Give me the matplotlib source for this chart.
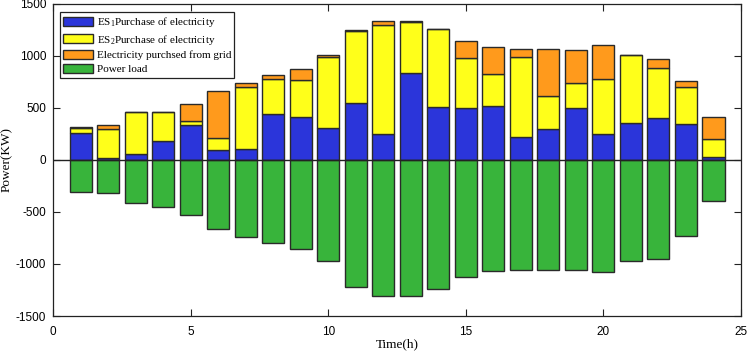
import numpy as np
import matplotlib
matplotlib.use('Agg')
import matplotlib.pyplot as plt

plt.rcParams['axes.unicode_minus'] = False
plt.rcParams['mathtext.fontset'] = 'custom'
plt.rcParams['mathtext.rm'] = 'Liberation Serif'
plt.rcParams['mathtext.it'] = 'Liberation Serif:italic'

# data
hours = np.arange(1, 25)
es1 = [260, 20, 55, 180, 330, 95, 100, 435, 415, 305, 545, 245,
       830, 510, 500, 515, 215, 300, 500, 245, 355, 400, 340, 25]
es2 = [50, 275, 405, 280, 45, 110, 600, 340, 350, 685, 690, 1050,
       490, 750, 475, 305, 770, 310, 240, 530, 655, 485, 360, 170]
grid = [3, 40, 3, 3, 165, 460, 40, 40, 105, 18, 15, 35,
        8, 0, 163, 265, 75, 455, 315, 325, 0, 85, 60, 220]
load = [-305, -314, -417, -449, -526, -660, -737, -795, -859, -974, -1218, -1311,
        -1311, -1244, -1128, -1064, -1054, -1058, -1054, -1080, -974, -952, -734, -391]

labels = ['ES$_1$Purchase of electricity', 'ES$_2$Purchase of electricity',
          'Electricity purchsed from grid', 'Power load']
colors = ['#2B35DA', '#FFFF1A', '#FF9A1C', '#38B43B']

es1 = np.array(es1)
es2 = np.array(es2)
grid = np.array(grid)

fig = plt.figure(figsize=(7.47, 3.52), dpi=100)
ax = fig.add_axes([0.071, 0.102, 0.921, 0.888])

kw = dict(width=0.8, edgecolor='#2a2a2a', linewidth=1.0)
ax.bar(hours, es1, color=colors[0], label=labels[0], **kw)
ax.bar(hours, es2, bottom=es1, color=colors[1], label=labels[1], **kw)
ax.bar(hours, grid, bottom=es1 + es2, color=colors[2], label=labels[2], **kw)
ax.bar(hours, load, color=colors[3], label=labels[3], **kw)
ax.axhline(0, color='#222222', linewidth=1.0)

ax.set_xlim(0, 25)
ax.set_ylim(-1500, 1500)
ax.set_xticks([0, 5, 10, 15, 20, 25])
ax.set_yticks([-1500, -1000, -500, 0, 500, 1000, 1500])
ax.tick_params(direction='in', length=5, width=0.8, top=True, right=True,
               labelsize=8.5, color='#222222', pad=5)
ax.tick_params(axis='x', pad=7)
for t in ax.get_xticklabels() + ax.get_yticklabels():
    t.set_fontfamily('Liberation Sans')
for s in ax.spines.values():
    s.set_linewidth(0.9)
    s.set_color('#222222')

ax.set_xlabel('Time(h)', fontfamily='Liberation Serif', fontsize=9.5, labelpad=0)
ax.set_ylabel('Power(KW)', fontfamily='Liberation Serif', fontsize=9.5, labelpad=2)

leg = ax.legend(loc='upper left', bbox_to_anchor=(0.010, 0.973), borderaxespad=0,
                prop={'family': 'Liberation Serif', 'size': 8},
                handlelength=2.7, handleheight=0.9, handletextpad=0.3,
                labelspacing=0.3, borderpad=0.3, fancybox=False,
                framealpha=1, edgecolor='#222222')
leg.get_frame().set_linewidth(0.9)

fig.savefig('out.png', dpi=100)
